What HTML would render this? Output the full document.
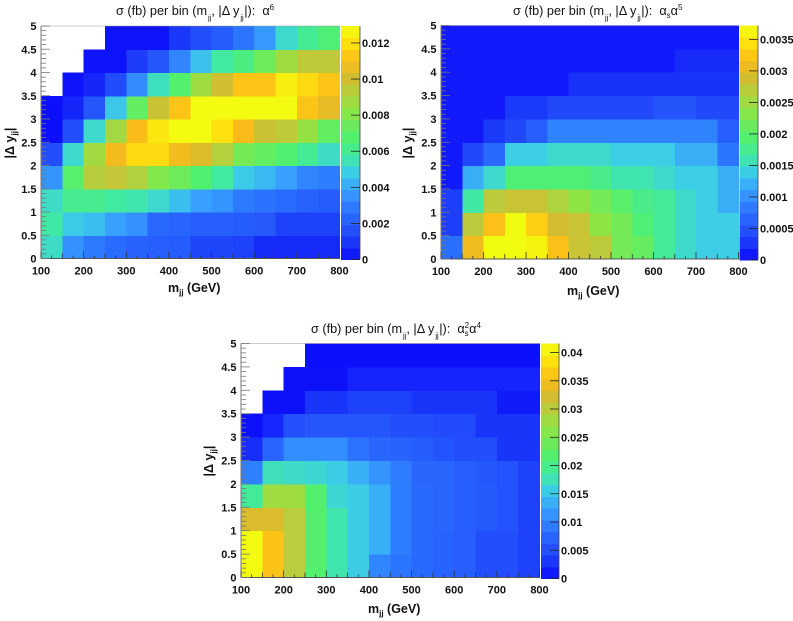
<!DOCTYPE html>
<html lang="en">
<head>
<meta charset="utf-8">
<title>Cross section per bin heatmaps</title>
<style>
html,body{margin:0;padding:0;background:#fff;width:793px;height:621px;overflow:hidden}
svg{display:block;filter:blur(0.35px)}
text{font-family:"Liberation Sans",sans-serif;fill:#111}
.tick{font-weight:bold;font-size:11px}
.title{font-size:12.7px}
.axis{font-weight:bold;font-size:12.5px}
</style>
</head>
<body>
<svg id="chart" width="793" height="621" viewBox="0 0 793 621" xmlns="http://www.w3.org/2000/svg"></svg>
<script>
const xEdges = [100,150,200,250,300,350,400,450,500,550,600,650,700,750,800];
const yEdges = [0,0.5,1,1.5,2,2.5,3,3.5,4,4.5,5];
const xTickLabels = [100,200,300,400,500,600,700,800];
const yTickLabels = [0,0.5,1,1.5,2,2.5,3,3.5,4,4.5,5];

/* rows run from |dy| 0-0.5 (first) to 4.5-5 (last) */
const alpha6Values = [
 [.0053,.0035,.0029,.0025,.0022,.0021,.0020,.0013,.0013,.0012,.0007,.0007,.0007,.0007],
 [.0057,.0048,.0045,.0039,.0035,.0024,.0023,.0021,.0021,.0020,.0019,.0012,.0012,.0012],
 [.0053,.0061,.0061,.0058,.0056,.0052,.0045,.0039,.0036,.0029,.0027,.0025,.0022,.0020],
 [.0036,.0069,.0093,.0096,.0091,.0080,.0075,.0067,.0058,.0048,.0044,.0039,.0032,.0030],
 [.0016,.0052,.0088,.0108,.0118,.0118,.0108,.0103,.0092,.0077,.0072,.0067,.0060,.0053],
 [.0001,.0016,.0052,.0088,.0110,.0122,.0128,.0128,.0120,.0110,.0098,.0095,.0085,.0072],
 [.0001,.0006,.0018,.0047,.0072,.0098,.0112,.0128,.0128,.0128,.0128,.0128,.0112,.0105],
 [null,.0002,.0006,.0015,.0034,.0054,.0068,.0087,.0100,.0112,.0112,.0124,.0118,.0112],
 [null,null,.0002,.0002,.0011,.0018,.0032,.0046,.0058,.0064,.0075,.0087,.0095,.0095],
 [null,null,null,.0002,.0002,.0002,.0010,.0016,.0020,.0028,.0037,.0052,.0060,.0066]
];
const alphaSAlpha5Values = [
 [.00075,.0031,.0037,.0037,.0036,.0032,.0028,.0027,.0022,.0021,.0017,.0015,.0014,.0014],
 [.00033,.0027,.0032,.0037,.0033,.0029,.0028,.0024,.0022,.0019,.0017,.0015,.0014,.0014],
 [.00033,.00165,.0027,.0028,.0028,.0026,.0024,.0022,.0020,.0018,.0017,.0015,.0014,.0012],
 [.0001,.0012,.0015,.0019,.0019,.0019,.0019,.0018,.0016,.0016,.0015,.0014,.0014,.0012],
 [.0001,.0004,.0007,.0014,.0014,.0015,.0015,.0015,.0014,.0014,.0014,.0012,.0012,.0008],
 [.0001,.0001,.0003,.0004,.0006,.0009,.0009,.0009,.0009,.0009,.0009,.0009,.0009,.0006],
 [.0001,.0001,.0001,.0003,.0003,.0004,.0004,.0004,.0004,.0004,.0005,.0005,.0004,.0004],
 [.0001,.0001,.0001,.0001,.0001,.0001,.00025,.00025,.00025,.00025,.00025,.00025,.00025,.00025],
 [.0001,.0001,.0001,.0001,.0001,.0001,.0001,.0001,.0001,.0001,.0001,.0002,.0002,.0002],
 [.0001,.0001,.0001,.0001,.0001,.0001,.0001,.0001,.0001,.0001,.0001,.0001,.0001,.0001]
];
const alphaS2Alpha4Values = [
 [.0412,.0360,.0300,.0220,.0180,.0155,.0104,.0090,.0078,.0072,.0068,.0050,.0050,.0038],
 [.0412,.0360,.0300,.0220,.0180,.0155,.0135,.0095,.0078,.0072,.0068,.0050,.0050,.0038],
 [.0330,.0330,.0300,.0220,.0180,.0155,.0135,.0095,.0078,.0075,.0068,.0062,.0055,.0038],
 [.0190,.0280,.0280,.0220,.0165,.0155,.0135,.0095,.0078,.0075,.0068,.0062,.0055,.0038],
 [.0098,.0175,.0170,.0165,.0155,.0135,.0115,.0095,.0075,.0075,.0068,.0060,.0055,.0038],
 [.0025,.0075,.0110,.0110,.0110,.0088,.0075,.0072,.0065,.0055,.0050,.0050,.0030,.0030],
 [.0005,.0020,.0052,.0058,.0058,.0058,.0058,.0050,.0050,.0047,.0047,.0030,.0030,.0030],
 [null,.0005,.0005,.0030,.0030,.0038,.0038,.0038,.0030,.0030,.0030,.0030,.0012,.0012],
 [null,null,.0005,.0005,.0005,.0018,.0018,.0018,.0018,.0018,.0018,.0018,.0018,.0018],
 [null,null,null,.0004,.0004,.0004,.0004,.0004,.0004,.0004,.0004,.0004,.0004,.0004]
];
const alpha6ScaleTicks = [0,0.002,0.004,0.006,0.008,0.01,0.012];
const alphaSAlpha5ScaleTicks = [0,0.0005,0.001,0.0015,0.002,0.0025,0.003,0.0035];
const alphaS2Alpha4ScaleTicks = [0,0.005,0.01,0.015,0.02,0.025,0.03,0.035,0.04];

const NS = 'http://www.w3.org/2000/svg';
const root = document.getElementById('chart');
const PALETTE_STEPS = 20;
const stops = [
 [0,[10,10,250]],[.1,[32,70,250]],[.2,[42,110,255]],[.3,[56,160,255]],[.38,[60,208,228]],
 [.44,[64,232,165]],[.52,[80,240,112]],[.64,[140,230,68]],[.72,[185,205,60]],[.78,[212,188,48]],
 [.85,[250,188,25]],[.92,[255,222,15]],[1,[240,255,16]]
];
function paletteColor(t){
  const q = Math.max(0, Math.min(1, t));
  for (let i = 1; i < stops.length; i++) {
    if (q <= stops[i][0]) {
      const a = stops[i-1], b = stops[i], f = (q - a[0]) / (b[0] - a[0]);
      const c = a[1].map((v, k) => Math.round(v + (b[1][k] - v) * f));
      return 'rgb(' + c.join(',') + ')';
    }
  }
  return 'rgb(240,255,16)';
}
function mk(tag, attrs, parent, text){
  const el = document.createElementNS(NS, tag);
  for (const k in attrs) el.setAttribute(k, attrs[k]);
  if (text !== undefined) el.textContent = text;
  (parent || root).appendChild(el);
  return el;
}
function addRuns(el, runs){
  runs.forEach(r => {
    const t = document.createElementNS(NS, 'tspan');
    t.textContent = r[0];
    if (r[1]) {
      t.setAttribute('font-size', r[2] || '8');
      t.setAttribute('dy', r[1]);
    }
    if (r[3]) t.setAttribute('dx', r[3]);
    el.appendChild(t);
  });
}

function drawPanel(cfg){
  const g = mk('g', {}, root);
  
  
  const xS = v => cfg.left + (v - 100) / 700 * (cfg.right - cfg.left);
  const yS = v => cfg.bottom - v / 5 * (cfg.bottom - cfg.top);
  const cS = v => cfg.bottom + 1 - v / cfg.max * (cfg.bottom + 1 - cfg.top);

  /* heatmap cells */
  const cells = mk('g', {'shape-rendering':'crispEdges'}, g);
  
  
  cfg.values.forEach((row, r) => row.forEach((v, c) => {
    if (v === null) return;
    const x0 = xS(xEdges[c]), x1 = xS(xEdges[c+1]), y0 = yS(yEdges[r+1]), y1 = yS(yEdges[r]);
    const cell = mk('rect', {x:x0, y:y0, width:x1-x0+0.5, height:y1-y0+0.5, fill:paletteColor(v / cfg.max)}, cells);
    
    
  }));

  /* axis frame lines */
  mk('line', {x1:cfg.left, y1:cfg.top, x2:cfg.left, y2:cfg.bottom, stroke:'#777', 'stroke-width':1}, g);
  mk('line', {x1:cfg.left, y1:cfg.bottom, x2:cfg.right, y2:cfg.bottom, stroke:'#555', 'stroke-width':1}, g);
  mk('line', {x1:cfg.left, y1:cfg.top, x2:cfg.right, y2:cfg.top, stroke:'#999', 'stroke-width':0.6}, g);

  /* x ticks */
  for (let v = 100; v <= 800; v += 25) {
    const major = v % 100 === 0, mid = v % 50 === 0;
    mk('line', {x1:xS(v), x2:xS(v), y1:cfg.bottom, y2:cfg.bottom - (major ? 7 : mid ? 5 : 3), stroke:'#333', 'stroke-width':0.8}, g);
  }
  xTickLabels.forEach(v => {
    const t = mk('text', {x:xS(v), y:cfg.bottom + 16, 'text-anchor':'middle', class:'tick'}, g, v);
    
    
  });

  /* y ticks */
  for (let i = 0; i <= 50; i++) {
    const v = i / 10, major = i % 5 === 0;
    mk('line', {x1:cfg.left, x2:cfg.left + (major ? 9 : 5), y1:yS(v), y2:yS(v), stroke:'#777', 'stroke-width':0.8}, g);
  }
  yTickLabels.forEach(v => {
    const t = mk('text', {x:cfg.left - 4.5, y:yS(v) + 4, 'text-anchor':'end', class:'tick'}, g, v);
    
    
  });

  /* colour bar */
  const bar = mk('g', {'shape-rendering':'crispEdges'}, g);
  
  
  for (let i = 0; i < PALETTE_STEPS; i++) {
    const yTop = cS((i + 1) / PALETTE_STEPS * cfg.max), yBot = cS(i / PALETTE_STEPS * cfg.max);
    mk('rect', {x:cfg.barLeft, y:yTop, width:cfg.barRight - cfg.barLeft, height:yBot - yTop + 0.5, fill:paletteColor((i + 0.5) / PALETTE_STEPS)}, bar);
  }
  mk('line', {x1:cfg.barRight, x2:cfg.barRight, y1:cfg.top, y2:cfg.bottom + 1, stroke:'#444', 'stroke-width':0.8}, g);
  cfg.scaleTicks.forEach(v => {
    mk('line', {x1:cfg.barRight - 9, x2:cfg.barRight, y1:cS(v), y2:cS(v), stroke:'#222', 'stroke-width':0.8}, g);
    const t = mk('text', {x:cfg.barRight + 2, y:cS(v) + 4, class:'tick'}, g, v);
    
    
  });

  /* titles */
  const title = mk('text', {x:cfg.titleX, y:cfg.titleY, class:'title'}, g);
  
  
  addRuns(title, [['σ (fb) per bin (m'],['jj','5','7.5','1'],[', |Δ y','-5','12.7'],['jj','5','7.5','1'],['|):\u00A0\u00A0','-5','12.7','0.5']].concat(cfg.titleTail));

  const xt = mk('text', {x:cfg.xTitleX, y:cfg.xTitleY, class:'axis'}, g);
  
  
  addRuns(xt, [['m'],['jj','3','8'],[' (GeV)','-3','12.5']]);

  const yt = mk('text', {transform:'translate(' + cfg.yTitleX + ' ' + cfg.yTitleY + ') rotate(-90)', class:'axis', 'text-anchor':'middle'}, g);
  
  
  addRuns(yt, [['|Δ y'],['jj','3','8'],['|','-3','12.5']]);
}

drawPanel({
  name:'panel-alpha6', values:alpha6Values, scaleTicks:alpha6ScaleTicks, max:0.01294,
  left:41, right:339.5, top:26, bottom:258.5, barLeft:341, barRight:360,
  titleX:116, titleY:15, titleTail:[['α'],['6','-5','8']],
  xTitleX:168, xTitleY:292, yTitleX:14, yTitleY:143
});
drawPanel({
  name:'panel-alphas-alpha5', values:alphaSAlpha5Values, scaleTicks:alphaSAlpha5ScaleTicks, max:0.00372,
  left:441, right:738.5, top:25.5, bottom:259, barLeft:739.5, barRight:758,
  titleX:513, titleY:15, titleTail:[['α'],['s','3','8'],['α','-3','12.7'],['5','-5','8']],
  xTitleX:567, xTitleY:295, yTitleX:412, yTitleY:143
});
drawPanel({
  name:'panel-alphas2-alpha4', values:alphaS2Alpha4Values, scaleTicks:alphaS2Alpha4ScaleTicks, max:0.0416,
  left:241, right:539.5, top:343.5, bottom:577.5, barLeft:541, barRight:559,
  titleX:311, titleY:333, titleTail:[['α'],['s','3','8'],['2','-8','8','-4'],['α','5','12.7'],['4','-5','8']],
  xTitleX:368, xTitleY:613, yTitleX:213, yTitleY:461
});
</script>
</body>
</html>
